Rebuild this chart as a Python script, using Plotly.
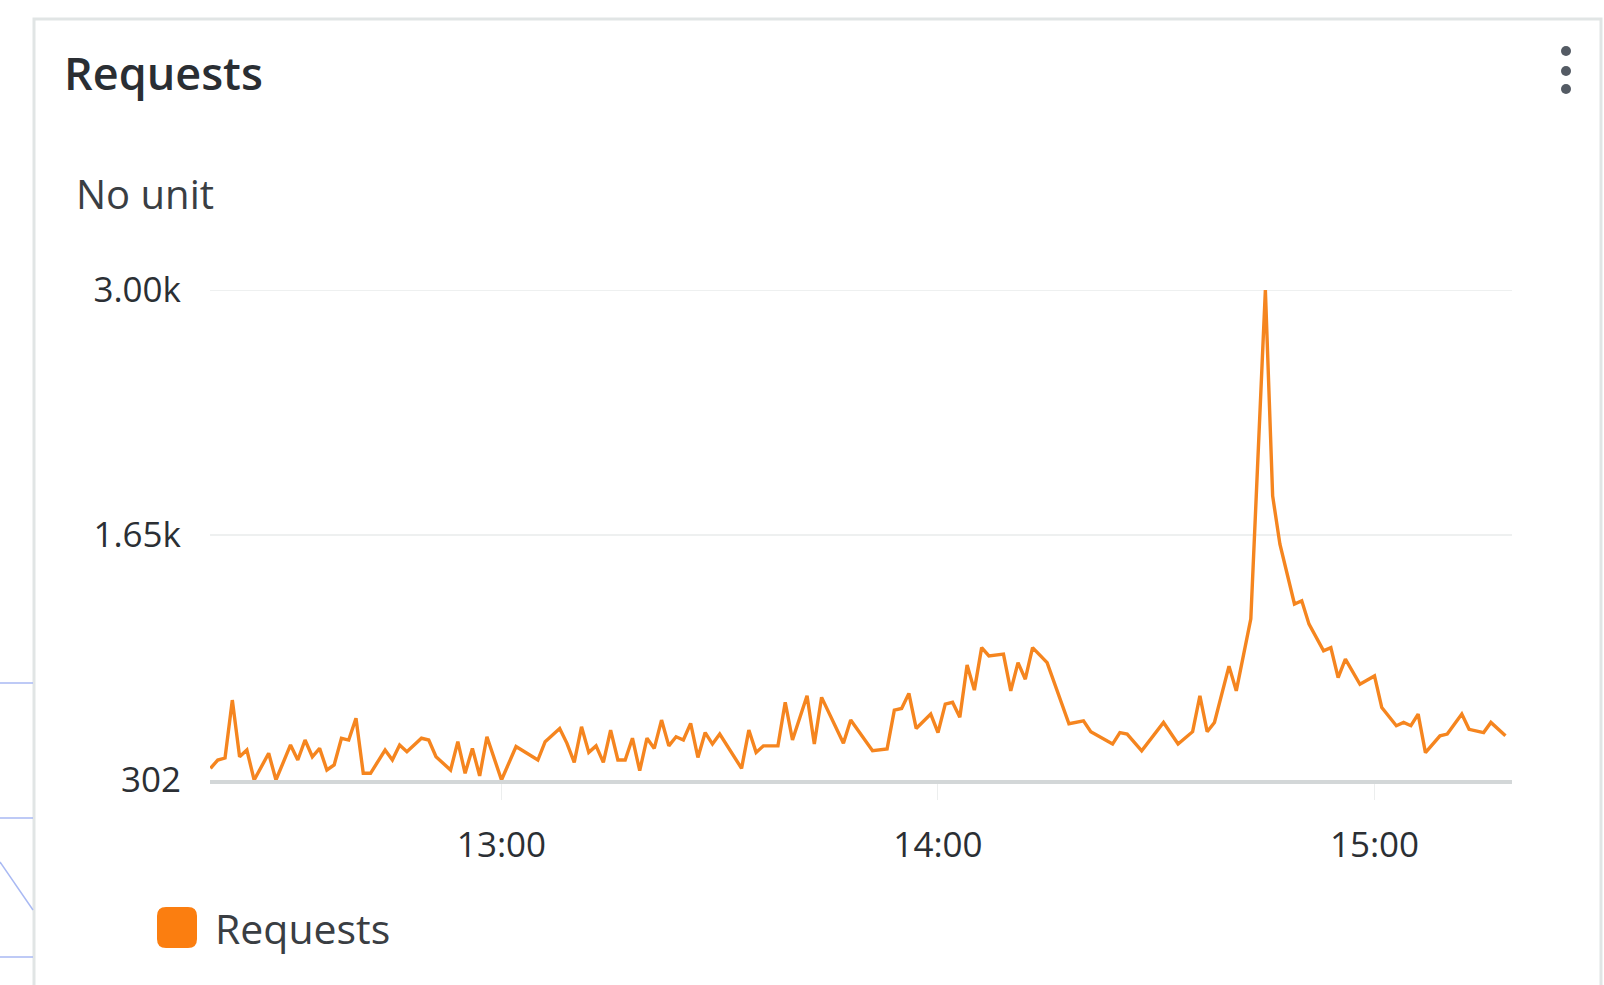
import plotly.graph_objects as go

# ---------------- data ----------------
times = [
    "12:20", "12:21", "12:22", "12:23", "12:24", "12:25", "12:26", "12:28", "12:29", "12:30",
    "12:31", "12:32", "12:33", "12:34", "12:35", "12:36", "12:37", "12:38", "12:39", "12:40",
    "12:41", "12:42", "12:44", "12:45", "12:46", "12:47", "12:49", "12:50", "12:51", "12:53",
    "12:54", "12:55", "12:56", "12:57", "12:58", "13:00", "13:02", "13:05", "13:06", "13:08",
    "13:09", "13:10", "13:11", "13:12", "13:13", "13:14", "13:15", "13:16", "13:17", "13:18",
    "13:19", "13:20", "13:21", "13:22", "13:23", "13:24", "13:25", "13:26", "13:27", "13:28",
    "13:29", "13:30", "13:33", "13:34", "13:35", "13:36", "13:38", "13:39", "13:40", "13:42",
    "13:43", "13:44", "13:47", "13:48", "13:51", "13:53", "13:54", "13:55", "13:56", "13:57",
    "13:59", "14:00", "14:01", "14:02", "14:03", "14:04", "14:05", "14:06", "14:07", "14:09",
    "14:10", "14:11", "14:12", "14:13", "14:15", "14:18", "14:20", "14:21", "14:24", "14:25",
    "14:26", "14:28", "14:31", "14:33", "14:35", "14:36", "14:37", "14:38", "14:40", "14:41",
    "14:43", "14:45", "14:46", "14:47", "14:49", "14:50", "14:51", "14:53", "14:54", "14:55",
    "14:56", "14:58", "15:00", "15:01", "15:03", "15:04", "15:05", "15:06", "15:07", "15:09",
    "15:10", "15:12", "15:13", "15:15", "15:16", "15:18",
]
requests = [
    366, 412, 423, 742, 430, 467, 302, 449, 302, 403,
    495, 412, 522, 430, 476, 357, 385, 532, 522, 642,
    339, 339, 467, 412, 495, 458, 532, 522, 430, 357,
    513, 339, 476, 325, 540, 302, 486, 412, 513, 586,
    504, 399, 595, 454, 490, 399, 577, 412, 412, 532,
    353, 532, 476, 632, 490, 540, 522, 614, 426, 563,
    500, 555, 366, 577, 454, 490, 490, 730, 522, 766,
    500, 757, 504, 632, 463, 473, 687, 696, 779, 586,
    665, 563, 720, 730, 647, 935, 797, 1031, 985, 995,
    793, 948, 857, 1031, 948, 612, 628, 568, 500, 563,
    555, 463, 619, 500, 568, 766, 568, 619, 929, 793,
    1190, 3000, 1866, 1600, 1271, 1289, 1160, 1013, 1031, 866,
    968, 829, 875, 701, 601, 619, 601, 665, 453, 545,
    555, 665, 581, 563, 619, 545,
]
y_tick_vals = [302, 1651, 3000]
y_tick_text = ["302", "1.65k", "3.00k"]
x_tick_times = ["13:00", "14:00", "15:00"]
x_range_times = ["12:19:56", "15:18:54"]
series_name = "Requests"
widget_title = "Requests"
unit_label = "No unit"

DAY = "2024-05-14 "
xs = [DAY + t for t in times]

# ---------------- layout helpers ----------------
W, H = 1604, 985
ML, MR, MT, MB = 210, 92, 290, 205
PW = W - ML - MR
PH = H - MT - MB


def px(xp):
    return (xp - ML) / PW


def py(yp):
    return (H - MB - yp) / PH


ORANGE = "#f5851f"
TEXT = "#2b2f34"
FONT = "Open Sans"

fig = go.Figure()
fig.add_trace(go.Scatter(
    x=xs, y=requests, mode="lines", name=series_name,
    line=dict(color=ORANGE, width=3.4), showlegend=False, hoverinfo="skip",
))

fig.update_layout(
    width=W, height=H,
    margin=dict(l=ML, r=MR, t=MT, b=MB, pad=0),
    paper_bgcolor="white", plot_bgcolor="rgba(0,0,0,0)",
    showlegend=False,
    font=dict(family=FONT, color=TEXT),
)

fig.update_xaxes(
    type="date",
    range=[DAY + x_range_times[0], DAY + x_range_times[1]],
    tickvals=[DAY + t for t in x_tick_times], ticktext=x_tick_times,
    showgrid=False, zeroline=False,
    showline=True, linecolor="#d3d7d8", linewidth=4,
    ticks="outside", ticklen=16, tickwidth=1, tickcolor="#eceeee",
    ticklabelstandoff=15,
    tickfont=dict(family=FONT, size=35, color=TEXT, weight=500),
    fixedrange=True,
)
fig.update_yaxes(
    range=[302, 3000],
    tickvals=y_tick_vals, ticktext=y_tick_text,
    showgrid=True, gridcolor="#eef0f0", gridwidth=2,
    zeroline=False, showline=False, ticks="",
    ticklabelstandoff=28,
    tickfont=dict(family=FONT, size=35, color=TEXT, weight=500),
    fixedrange=True,
)

shapes = []
# card border
shapes.append(dict(type="rect", xref="paper", yref="paper",
                   x0=px(34), x1=px(1601), y0=py(1010), y1=py(19),
                   line=dict(color="#e1e5e5", width=3), fillcolor="rgba(0,0,0,0)", layer="below"))
# top gridline (3.00k) drawn explicitly at the edge of the plot area
shapes.append(dict(type="line", xref="paper", yref="y",
                   x0=0, x1=1, y0=3000, y1=3000,
                   line=dict(color="#eef0f0", width=2), layer="below"))
# faint lines of the neighbouring widget (left of the card)
for yy in (683, 818, 957):
    shapes.append(dict(type="line", xref="paper", yref="paper",
                       x0=px(0), x1=px(33), y0=py(yy), y1=py(yy),
                       line=dict(color="#a9b9f3", width=1.5), layer="below"))
shapes.append(dict(type="line", xref="paper", yref="paper",
                   x0=px(0), x1=px(33), y0=py(862), y1=py(910),
                   line=dict(color="#a9b9f3", width=1.5), layer="below"))
# kebab menu dots
for yy in (51, 71, 89):
    r = 5
    shapes.append(dict(type="circle", xref="paper", yref="paper",
                       x0=px(1566 - r), x1=px(1566 + r), y0=py(yy + r), y1=py(yy - r),
                       line=dict(width=0), fillcolor="#545b64"))


# legend swatch (rounded square)
def rounded_rect(x0, y0, x1, y1, r):
    pts = [
        f"M {px(x0 + r)},{py(y0)}",
        f"L {px(x1 - r)},{py(y0)}",
        f"Q {px(x1)},{py(y0)} {px(x1)},{py(y0 + r)}",
        f"L {px(x1)},{py(y1 - r)}",
        f"Q {px(x1)},{py(y1)} {px(x1 - r)},{py(y1)}",
        f"L {px(x0 + r)},{py(y1)}",
        f"Q {px(x0)},{py(y1)} {px(x0)},{py(y1 - r)}",
        f"L {px(x0)},{py(y0 + r)}",
        f"Q {px(x0)},{py(y0)} {px(x0 + r)},{py(y0)}",
        "Z",
    ]
    return " ".join(pts)


shapes.append(dict(type="path", xref="paper", yref="paper",
                   path=rounded_rect(157, 907, 197, 948, 9),
                   line=dict(width=0), fillcolor="#fb7e10"))
fig.update_layout(shapes=shapes)

annotations = [
    dict(text=widget_title, x=px(62), y=py(72), xref="paper", yref="paper",
         xanchor="left", yanchor="middle", showarrow=False,
         font=dict(family=FONT, size=45, color="#2a2e33", weight=600)),
    dict(text=unit_label, x=px(74), y=py(193), xref="paper", yref="paper",
         xanchor="left", yanchor="middle", showarrow=False,
         font=dict(family=FONT, size=40, color="#3a3e43")),
    dict(text=series_name, x=px(213), y=py(928), xref="paper", yref="paper",
         xanchor="left", yanchor="middle", showarrow=False,
         font=dict(family=FONT, size=41, color="#3a3e43")),
]
fig.update_layout(annotations=annotations)

fig.write_html("out.html", config={"displayModeBar": False})
